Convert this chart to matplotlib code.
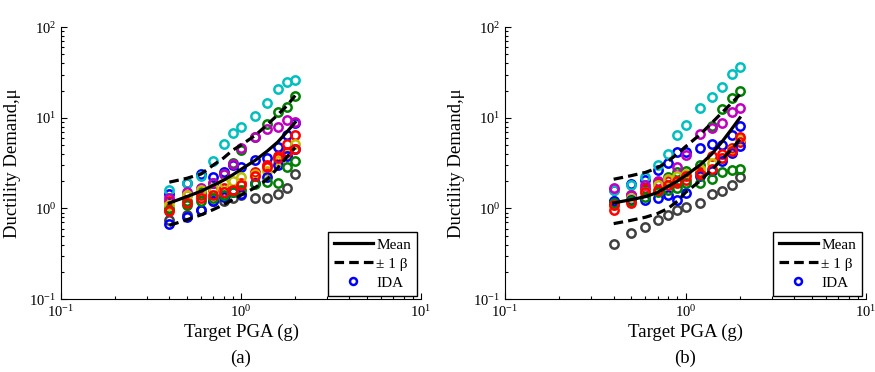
import matplotlib
matplotlib.use("Agg")
import matplotlib.pyplot as plt
from matplotlib.lines import Line2D

plt.rcParams["font.family"] = ["Liberation Serif", "DejaVu Serif"]
plt.rcParams["mathtext.fontset"] = "custom"
plt.rcParams["mathtext.rm"] = "Liberation Serif"
plt.rcParams["mathtext.it"] = "Liberation Serif:italic"

# target PGA levels (g)
pga = [0.4, 0.5, 0.6, 0.7, 0.8, 0.9, 1.0, 1.2, 1.4, 1.6, 1.8, 2.0]

# MATLAB-style record colours (cycled over the records)
rec_colors = [(0, 0, 1), (0, 0.5, 0), (1, 0, 0), (0, 0.75, 0.75),
              (0.75, 0, 0.75), (0.75, 0.75, 0), (0.25, 0.25, 0.25),
              (0, 0, 1), (0, 0.5, 0), (1, 0, 0)]

# ---- panel (a) ----
ida_a = [
    [1.45, 1.9, 2.4, 2.25, 2.5, 3.05, 2.85, 3.45, 3.6, 4.8, 6.4, 8.7],
    [1.0, 1.2, 1.5, 1.9, 2.4, 3.2, 4.4, 6.2, 8.6, 11.5, 13.3, 17.6],
    [1.2, 1.4, 1.4, 1.6, 1.7, 1.6, 1.9, 2.5, 3.0, 3.8, 5.2, 6.4],
    [1.6, 1.9, 2.3, 3.3, 5.1, 6.8, 7.9, 10.4, 14.5, 21.0, 24.7, 26.0],
    [1.3, 1.5, 1.7, 1.9, 2.4, 3.1, 4.7, 6.1, 7.5, 7.9, 9.5, 9.0],
    [1.1, 1.4, 1.6, 1.7, 1.9, 2.0, 2.2, 2.4, 2.6, 3.3, 3.9, 5.2],
    [0.75, 0.85, 0.95, 1.2, 1.2, 1.3, 1.4, 1.3, 1.3, 1.45, 1.7, 2.4],
    [0.67, 0.8, 0.95, 1.2, 1.35, 1.5, 1.45, 1.9, 2.2, 3.0, 3.8, 4.5],
    [0.95, 1.1, 1.2, 1.3, 1.4, 1.5, 1.6, 1.85, 1.95, 1.9, 2.85, 3.3],
    [0.93, 1.15, 1.3, 1.4, 1.5, 1.6, 1.8, 2.3, 2.9, 3.6, 4.2, 4.5],
]
mean_a = [1.15, 1.35, 1.55, 1.8, 2.05, 2.35, 2.7, 3.4, 4.3, 5.4, 7.0, 8.9]
upper_a = [1.95, 2.15, 2.4, 3.0, 3.6, 4.4, 5.0, 6.4, 8.4, 10.8, 13.6, 17.6]
lower_a = [0.65, 0.75, 0.85, 0.97, 1.1, 1.25, 1.4, 1.7, 2.1, 2.8, 3.7, 4.7]

# ---- panel (b) ----
ida_b = [
    [1.58, 1.87, 2.07, 2.67, 3.15, 4.2, 4.2, 4.7, 5.2, 5.0, 6.4, 8.2],
    [1.2, 1.4, 1.6, 1.9, 2.2, 2.5, 2.6, 3.0, 8.2, 12.6, 16.6, 20.0],
    [0.95, 1.42, 1.7, 1.9, 2.0, 1.9, 2.04, 2.5, 3.8, 4.0, 4.7, 5.4],
    [1.6, 1.8, 2.2, 3.0, 4.0, 6.4, 8.4, 12.9, 16.9, 21.8, 30.5, 36.8],
    [1.7, 1.4, 1.8, 2.0, 2.1, 2.9, 3.9, 6.6, 7.8, 8.7, 11.5, 12.9],
    [1.1, 1.3, 1.5, 1.8, 2.1, 2.3, 2.4, 2.7, 3.2, 3.6, 4.4, 5.8],
    [0.41, 0.53, 0.62, 0.74, 0.84, 0.97, 1.03, 1.14, 1.45, 1.55, 1.83, 2.2],
    [1.2, 1.25, 1.25, 1.3, 1.4, 1.25, 1.47, 2.3, 2.6, 3.3, 4.1, 4.9],
    [1.15, 1.2, 1.35, 1.5, 1.6, 1.7, 1.9, 1.9, 2.1, 2.5, 2.65, 2.75],
    [1.1, 1.15, 1.5, 1.6, 1.8, 2.0, 2.3, 2.4, 2.7, 3.6, 4.3, 6.1],
]
mean_b = [1.15, 1.25, 1.35, 1.5, 1.75, 2.0, 2.3, 3.0, 4.0, 5.5, 7.5, 10.0]
upper_b = [2.1, 2.3, 2.5, 2.8, 3.3, 4.0, 4.8, 6.5, 8.8, 11.5, 14.5, 18.0]
lower_b = [0.68, 0.74, 0.8, 0.88, 1.0, 1.2, 1.5, 2.0, 2.7, 3.5, 4.5, 5.8]

panels = [
    ("(a)", ida_a, mean_a, upper_a, lower_a, [61 / 875, 0.196, 360 / 875, 0.731]),
    ("(b)", ida_b, mean_b, upper_b, lower_b, [505 / 875, 0.196, 361 / 875, 0.731]),
]

fig = plt.figure(figsize=(8.75, 3.72), dpi=100)

for tag, ida, mean, upper, lower, rect in panels:
    ax = fig.add_axes(rect)
    for i, rec in enumerate(ida):
        ax.plot(pga, rec, "o", mfc="none", mec=rec_colors[i % len(rec_colors)],
                ms=6, mew=1.8, zorder=2)
    ax.plot(pga, mean, "-", color="k", lw=2.3, zorder=3)
    ax.plot(pga, upper, "--", color="k", lw=2.3, dashes=(3, 1.6), zorder=3)
    ax.plot(pga, lower, "--", color="k", lw=2.3, dashes=(3, 1.6), zorder=3)

    ax.set_xscale("log")
    ax.set_yscale("log")
    ax.set_xlim(0.1, 10)
    ax.set_ylim(0.1, 100)
    for s in ("top", "right"):
        ax.spines[s].set_visible(False)
    ax.tick_params(which="both", direction="in", labelsize=10.5, width=0.8)
    ax.tick_params(which="major", length=4)
    ax.tick_params(which="minor", length=2.5)
    ax.set_xlabel("Target PGA (g)", fontsize=13.5, labelpad=3)
    ax.set_ylabel("Ductility Demand,μ", fontsize=13.5, labelpad=6)

    handles = [
        Line2D([], [], color="k", lw=2.3, ls="-"),
        Line2D([], [], color="k", lw=2.3, ls="--", dashes=(3, 1.6)),
        Line2D([], [], color=(0, 0, 1), marker="o", mfc="none", ms=5, mew=1.8, ls="none"),
    ]
    leg = ax.legend(handles, ["Mean", "± 1 β", "IDA"], loc="lower right",
                    bbox_to_anchor=(0.99, 0.012), borderaxespad=0, fancybox=False,
                    framealpha=1, edgecolor="k", fontsize=11, handlelength=2.6,
                    handletextpad=0.2, labelspacing=0.35, borderpad=0.4)
    leg.get_frame().set_linewidth(1.0)

    cx = rect[0] + rect[2] / 2
    fig.text(cx, 1 - 358 / 372, tag, ha="center", va="center", fontsize=13.5)

fig.savefig("out.png", dpi=100)
